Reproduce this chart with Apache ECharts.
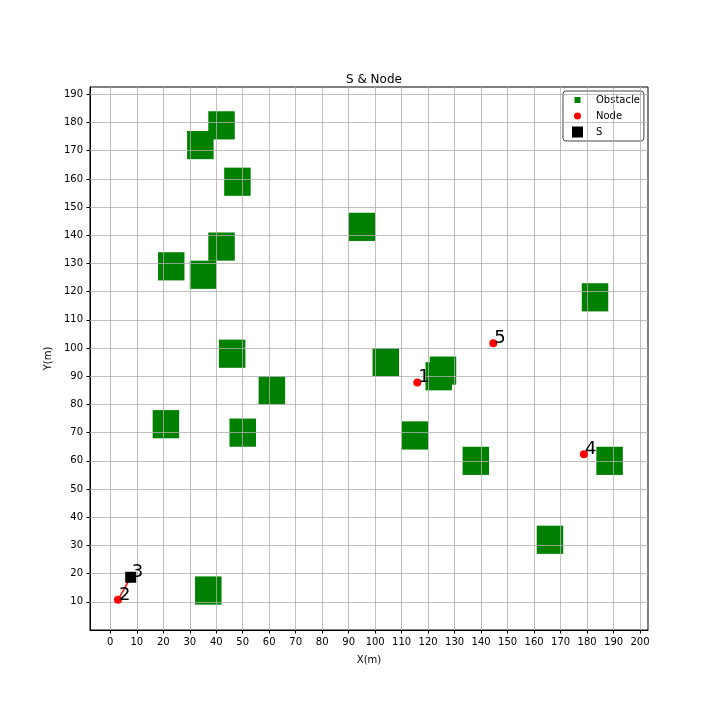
<!DOCTYPE html>
<html>
<head>
<meta charset="utf-8">
<script src="https://cdn.jsdelivr.net/npm/echarts@6/dist/echarts.min.js"></script>
<style>
  html, body { margin: 0; padding: 0; background: #fff; }
  #chart { width: 720px; height: 720px; }
</style>
</head>
<body>
<div id="chart"></div>
<script>
// obstacle centres (each obstacle is a 10 x 10 square)
const obsX = [34, 42, 48, 95, 23, 35, 42, 183, 46, 104, 125.6, 124, 61, 21, 50, 115, 138, 188.5, 166, 37]
const obsY = [172, 179, 159, 143, 129, 126, 136, 118, 98, 95, 92, 90, 85, 73, 70, 69, 60, 60, 32, 14]
const obsSize = 10

// nodes
const nodeNames = ['1', '2', '3', '4', '5']
const nodeX = [115.9, 2.9, 7.7, 178.8, 144.6]
const nodeY = [87.8, 10.7, 18.7, 62.3, 101.7]

// start point
const sX = [7.7]
const sY = [18.7]

// tick values
const xTicks = []
for (let v = 0; v <= 200; v += 10) xTicks.push(v)
const yTicks = []
for (let v = 10; v <= 190; v += 10) yTicks.push(v)

const font = 'DejaVu Sans'
const chart = echarts.init(document.getElementById('chart'))

const obstacleData = obsX.map((x, i) => [x, obsY[i]])
const nodeData = nodeX.map((x, i) => ({ name: nodeNames[i], value: [x, nodeY[i]] }))

chart.setOption({
  animation: false,
  textStyle: { fontFamily: font },
  title: {
    text: 'S & Node',
    left: 341,
    top: 69,
    textStyle: { fontSize: 12, fontWeight: 'normal', color: '#000', fontFamily: font }
  },
  legend: {
    orient: 'vertical',
    left: 563,
    top: 91,
    padding: [3.5, 4, 3.5, 9],
    itemWidth: 11,
    itemHeight: 11,
    itemGap: 5,
    borderColor: '#444',
    borderWidth: 1,
    borderRadius: 3,
    backgroundColor: '#fff',
    textStyle: { fontSize: 10, color: '#000', fontFamily: font, padding: [0, 0, 0, 8] },
    data: [
      { name: 'Obstacle', icon: 'path://M0,0M11,11M2.5,2.5h6v6h-6z' },
      { name: 'Node', icon: 'path://M0,0M11,11M2,5.5a3.5,3.5 0 1,0 7,0a3.5,3.5 0 1,0 -7,0z' },
      { name: 'S', icon: 'rect' }
    ]
  },
  grid: {
    left: 90, top: 87, width: 558, height: 543,
    show: true, borderColor: '#000', borderWidth: 1, backgroundColor: 'transparent'
  },
  xAxis: {
    type: 'value',
    min: -7.66,
    max: 203.0,
    name: 'X(m)',
    nameLocation: 'middle',
    nameGap: 25,
    nameTextStyle: { fontSize: 10, color: '#000', fontFamily: font },
    axisLine: { onZero: false, lineStyle: { color: '#000', width: 1 } },
    axisTick: { show: true, length: 3.5, inside: false, customValues: xTicks, lineStyle: { color: '#000' } },
    axisLabel: { customValues: xTicks, margin: 7, fontSize: 10, color: '#000', fontFamily: font },
    splitLine: { show: false }
  },
  yAxis: {
    type: 'value',
    min: 0,
    max: 192.6,
    name: 'Y(m)',
    nameLocation: 'middle',
    nameGap: 34,
    nameTextStyle: { fontSize: 10, color: '#000', fontFamily: font },
    axisLine: { onZero: false, lineStyle: { color: '#000', width: 1 } },
    axisTick: { show: true, length: 3.5, inside: false, customValues: yTicks, lineStyle: { color: '#000' } },
    axisLabel: { customValues: yTicks, margin: 7, fontSize: 10, color: '#000', fontFamily: font },
    splitLine: { show: false }
  },
  series: [
    {
      name: 'Obstacle',
      type: 'custom',
      z: 2,
      itemStyle: { color: '#008000', opacity: 1 },
      encode: { x: 0, y: 1 },
      data: obstacleData,
      renderItem: (params, api) => {
        const x = api.value(0)
        const y = api.value(1)
        const p0 = api.coord([x - obsSize / 2, y + obsSize / 2])
        const size = api.size([obsSize, obsSize])
        return {
          type: 'rect',
          shape: { x: p0[0], y: p0[1], width: size[0], height: size[1] },
          style: { fill: '#008000' }
        }
      }
    },
    {
      // grid lines drawn above the obstacles
      name: 'grid',
      type: 'line',
      data: [],
      z: 3,
      silent: true,
      markLine: {
        silent: true,
        symbol: ['none', 'none'],
        label: { show: false },
        lineStyle: { color: '#b0b0b0', width: 0.8, type: 'solid' },
        data: xTicks.map(v => ({ xAxis: v })).concat(yTicks.map(v => ({ yAxis: v })))
      }
    },
    {
      name: 'path',
      type: 'line',
      z: 4,
      symbol: 'none',
      lineStyle: { color: '#ff0000', width: 1.5 },
      data: [[nodeX[1], nodeY[1]], [nodeX[2], nodeY[2]]]
    },
    {
      name: 'Node',
      type: 'scatter',
      z: 5,
      symbol: 'circle',
      symbolSize: 8,
      itemStyle: { color: '#ff0000', opacity: 1 },
      data: nodeData,
      label: {
        show: true,
        formatter: p => p.name,
        position: [5, 8],
        align: 'left',
        verticalAlign: 'bottom',
        fontSize: 18,
        color: '#000',
        fontFamily: font
      }
    },
    {
      name: 'S',
      type: 'scatter',
      z: 6,
      symbol: 'rect',
      symbolSize: 11,
      itemStyle: { color: '#000', opacity: 1 },
      data: sX.map((x, i) => [x, sY[i]])
    }
  ]
})
</script>
</body>
</html>
